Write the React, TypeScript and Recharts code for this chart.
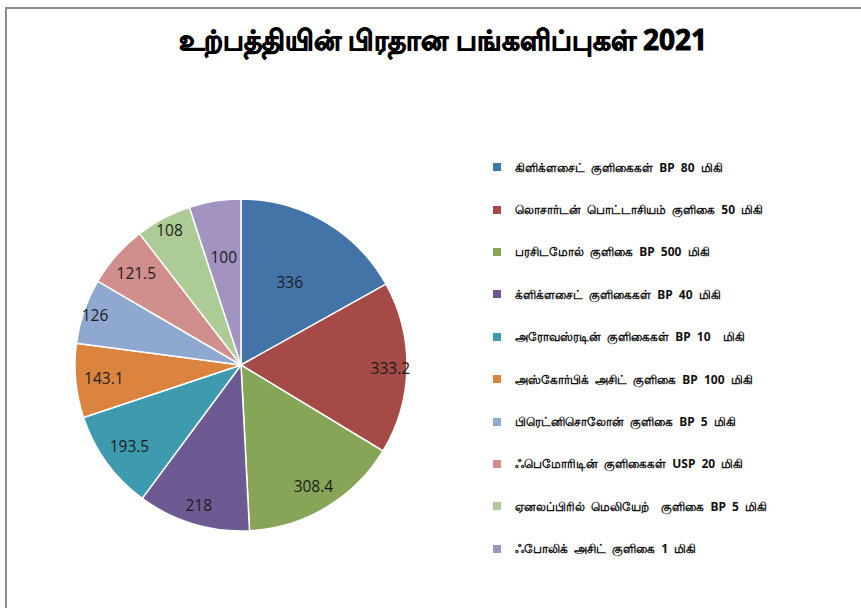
import React from 'react'
import { PieChart, Pie, Cell, Legend } from 'recharts'

const products = [
  'கிளிக்ளசைட் குளிகைகள் BP 80 மிகி',
  'லொசார்டன் பொட்டாசியம் குளிகை 50 மிகி',
  'பரசிடமோல் குளிகை BP 500 மிகி',
  'க்ளிக்ளசைட் குளிகைகள் BP 40 மிகி',
  'அரோவஸ்ரடின் குளிகைகள் BP 10  மிகி',
  'அஸ்கோர்பிக் அசிட் குளிகை BP 100 மிகி',
  'பிரெட்னிசொலோன் குளிகை BP 5 மிகி',
  'ஃபெமோரிடின் குளிகைகள் USP 20 மிகி',
  'ஏனலப்பிரில் மெலியேற்  குளிகை BP 5 மிகி',
  'ஃபோலிக் அசிட் குளிகை 1 மிகி',
]
const values = [336, 333.2, 308.4, 218, 193.5, 143.1, 126, 121.5, 108, 100]

const COLORS = ['#4374A8', '#A64A47', '#86A557', '#6D5A93', '#3D9AAF', '#DB8440', '#8EA8D0', '#D08E8C', '#ADCB94', '#A393C1']
// how far out each value label sits, as a share of the radius (Excel "best fit")
const LABEL_POS = [0.58, 0.9, 0.85, 0.88, 0.83, 0.83, 0.93, 0.84, 0.92, 0.66]

const data = products.map((name, i) => ({ name, value: values[i] }))

const RAD = Math.PI / 180

function ValueLabel(props: any) {
  const { cx, cy, midAngle, outerRadius, index, value } = props
  const r = outerRadius * LABEL_POS[index]
  const x = cx + r * Math.cos(-midAngle * RAD)
  const y = cy + r * Math.sin(-midAngle * RAD)
  return (
    <text x={x} y={y} fill="#1c1c1c" fontSize={15.5} fontFamily="'Open Sans', sans-serif" textAnchor="middle" dominantBaseline="central">
      {value}
    </text>
  )
}

function LegendList() {
  return (
    <div>
      {data.map((d, i) => (
        <div key={d.name} style={{ height: 42.4, display: 'flex', alignItems: 'center' }}>
          <span style={{ width: 8, height: 8, background: COLORS[i], display: 'inline-block', marginRight: 14 }} />
          <span style={{ fontSize: 12, fontWeight: 'bold', color: '#111', fontFamily: "'Noto Sans', Arial, sans-serif", whiteSpace: 'pre', wordSpacing: 3 }}>{d.name}</span>
        </div>
      ))}
    </div>
  )
}

export default function App() {
  return (
    <div style={{ position: 'fixed', left: 0, top: 0, width: 861, height: 608, background: '#fff' }}>
      <div style={{ position: 'absolute', left: 5, top: 7, right: 0, bottom: 0, borderTop: '2px solid #8c8c8c', borderLeft: '2px solid #8c8c8c' }} />
      <div style={{ position: 'absolute', left: 0, width: 886, top: 20, textAlign: 'center', fontSize: 28, fontWeight: 'bold', fontFamily: "'Noto Sans', 'Liberation Sans', sans-serif", color: '#000', WebkitTextStroke: '0.9px #000' }}>
        உற்பத்தியின் பிரதான பங்களிப்புகள் 2021
      </div>
      <PieChart width={861} height={608} margin={{ top: 0, right: 0, bottom: 0, left: 0 }} style={{ position: 'absolute', left: 0, top: 0 }}>
        <Pie
          data={data}
          dataKey="value"
          nameKey="name"
          cx={241}
          cy={365}
          outerRadius={166}
          startAngle={90}
          endAngle={-270}
          stroke="#fff"
          strokeWidth={1.5}
          label={ValueLabel}
          labelLine={false}
          isAnimationActive={false}
        >
          {data.map((d, i) => (
            <Cell key={d.name} fill={COLORS[i]} />
          ))}
        </Pie>
        <Legend content={<LegendList />} layout="vertical" wrapperStyle={{ left: 493, top: 146, width: 360 }} />
      </PieChart>
    </div>
  )
}
